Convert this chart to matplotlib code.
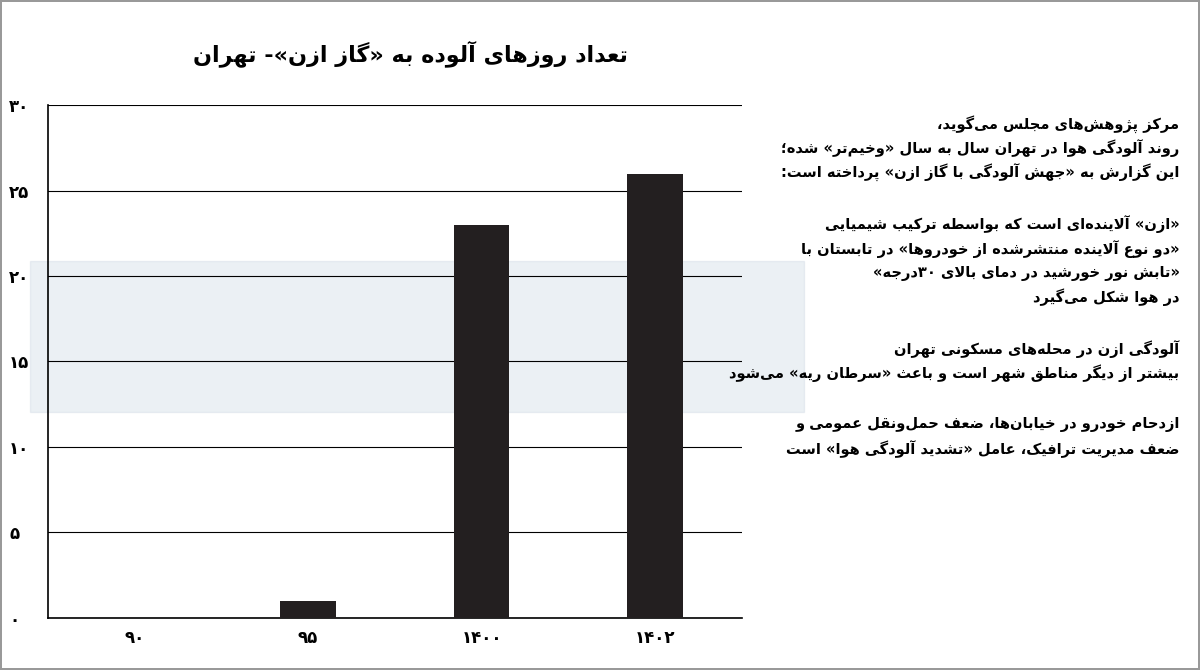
import unicodedata
import matplotlib
matplotlib.use("Agg")
import matplotlib.pyplot as plt
from matplotlib.patches import Rectangle

# ---- data ----
years = ["۹۰", "۹۵", "۱۴۰۰", "۱۴۰۲"]
days = [0, 1, 23, 26]
yticks = [0, 5, 10, 15, 20, 25, 30]
ytick_labels = ["۰", "۵", "۱۰", "۱۵", "۲۰", "۲۵", "۳۰"]
title = "تعداد روزهای آلوده به «گاز ازن»- تهران"
notes = [
    "مرکز پژوهش\u200cهای مجلس می\u200cگوید،",
    "روند آلودگی هوا در تهران سال به سال «وخیم\u200cتر» شده؛",
    "این گزارش به «جهش آلودگی با گاز ازن» پرداخته است:",
    "",
    "«ازن» آلاینده\u200cای است که بواسطه ترکیب شیمیایی",
    "«دو نوع آلاینده منتشرشده از خودروها» در تابستان با",
    "«تابش نور خورشید در دمای بالای ۳۰درجه»",
    "در هوا شکل می\u200cگیرد",
    "",
    "آلودگی ازن در محله\u200cهای مسکونی تهران",
    "بیشتر از دیگر مناطق شهر است و باعث «سرطان ریه» می\u200cشود",
    "",
    "ازدحام خودرو در خیابان\u200cها، ضعف حمل\u200cونقل عمومی و",
    "ضعف مدیریت ترافیک، عامل «تشدید آلودگی هوا» است",
]


def form(ch, kind):
    try:
        name = unicodedata.name(ch)
    except ValueError:
        return None
    if not name.startswith("ARABIC LETTER"):
        return None
    try:
        return unicodedata.lookup(name + " " + kind + " FORM")
    except KeyError:
        return None


def dual(ch):
    return form(ch, "INITIAL") is not None


def joinable(ch):
    return form(ch, "FINAL") is not None


def shape(s):
    out = []
    n = len(s)
    i = 0
    while i < n:
        c = s[i]
        if not joinable(c):
            out.append(c)
            i += 1
            continue
        prev = s[i - 1] if i > 0 else ""
        pj = bool(prev) and dual(prev)
        nxt = s[i + 1] if i + 1 < n else ""
        if c == "ل" and nxt in ("ا", "آ"):
            if nxt == "ا":
                out.append("\uFEFC" if pj else "\uFEFB")
            else:
                out.append("\uFEF6" if pj else "\uFEF5")
            i += 2
            continue
        nj = dual(c) and bool(nxt) and joinable(nxt)
        if pj and nj:
            out.append(form(c, "MEDIAL"))
        elif pj:
            out.append(form(c, "FINAL"))
        elif nj:
            out.append(form(c, "INITIAL"))
        else:
            out.append(form(c, "ISOLATED") or c)
        i += 1
    s = "".join(out).replace("\u200c", "")
    # visual order
    mirror = {"«": "»", "»": "«", "(": ")", ")": "("}
    r = [mirror.get(c, c) for c in s[::-1]]
    res, run = [], []
    for c in r:
        if c.isdigit():
            run.append(c)
        else:
            res.extend(run[::-1])
            run = []
            res.append(c)
    res.extend(run[::-1])
    return "".join(res)


plt.rcParams['font.family'] = ['DejaVu Sans Condensed', 'DejaVu Sans']
fig = plt.figure(figsize=(12, 6.7), dpi=100)
fig.patch.set_edgecolor("#999999")
fig.patch.set_linewidth(1.5)

# faint watermark band behind the chart
fig.patches.append(Rectangle((0.025, 0.385), 0.645, 0.225, transform=fig.transFigure,
                             color="#c8d4e0", alpha=0.35, zorder=0))

ax = fig.add_axes([0.04, 0.078, 0.578, 0.765])
ax.set_zorder(2)
ax.set_facecolor("none")
x = range(len(years))
ax.bar(x, days, width=0.32, color="#231f20", zorder=3)
ax.set_xlim(-0.5, 3.5)
ax.set_ylim(0, 30)
ax.set_yticks(yticks)
ax.set_yticklabels(ytick_labels, fontsize=12, fontweight="bold")
ax.set_xticks(list(x))
ax.set_xticklabels(years, fontsize=12, fontweight="bold")
ax.tick_params(length=0)
for lab in ax.get_yticklabels():
    lab.set_horizontalalignment("left")
ax.tick_params(axis="y", pad=28)
ax.tick_params(axis="x", pad=8)
ax.grid(axis="y", color="black", linewidth=0.8, zorder=0)
for s in ["top", "right"]:
    ax.spines[s].set_visible(False)
ax.spines["left"].set_linewidth(1.2)
ax.spines["bottom"].set_linewidth(1.2)

fig.text(0.342, 0.92, shape(title), fontsize=16, fontweight="bold", ha="center", va="center")

y0 = 0.815
for line in notes:
    if line:
        fig.text(0.983, y0, shape(line), fontsize=10.5, fontweight="bold", ha="right", va="center")
    y0 -= 0.0365 if line else 0.04

fig.savefig("out.png", dpi=100)
